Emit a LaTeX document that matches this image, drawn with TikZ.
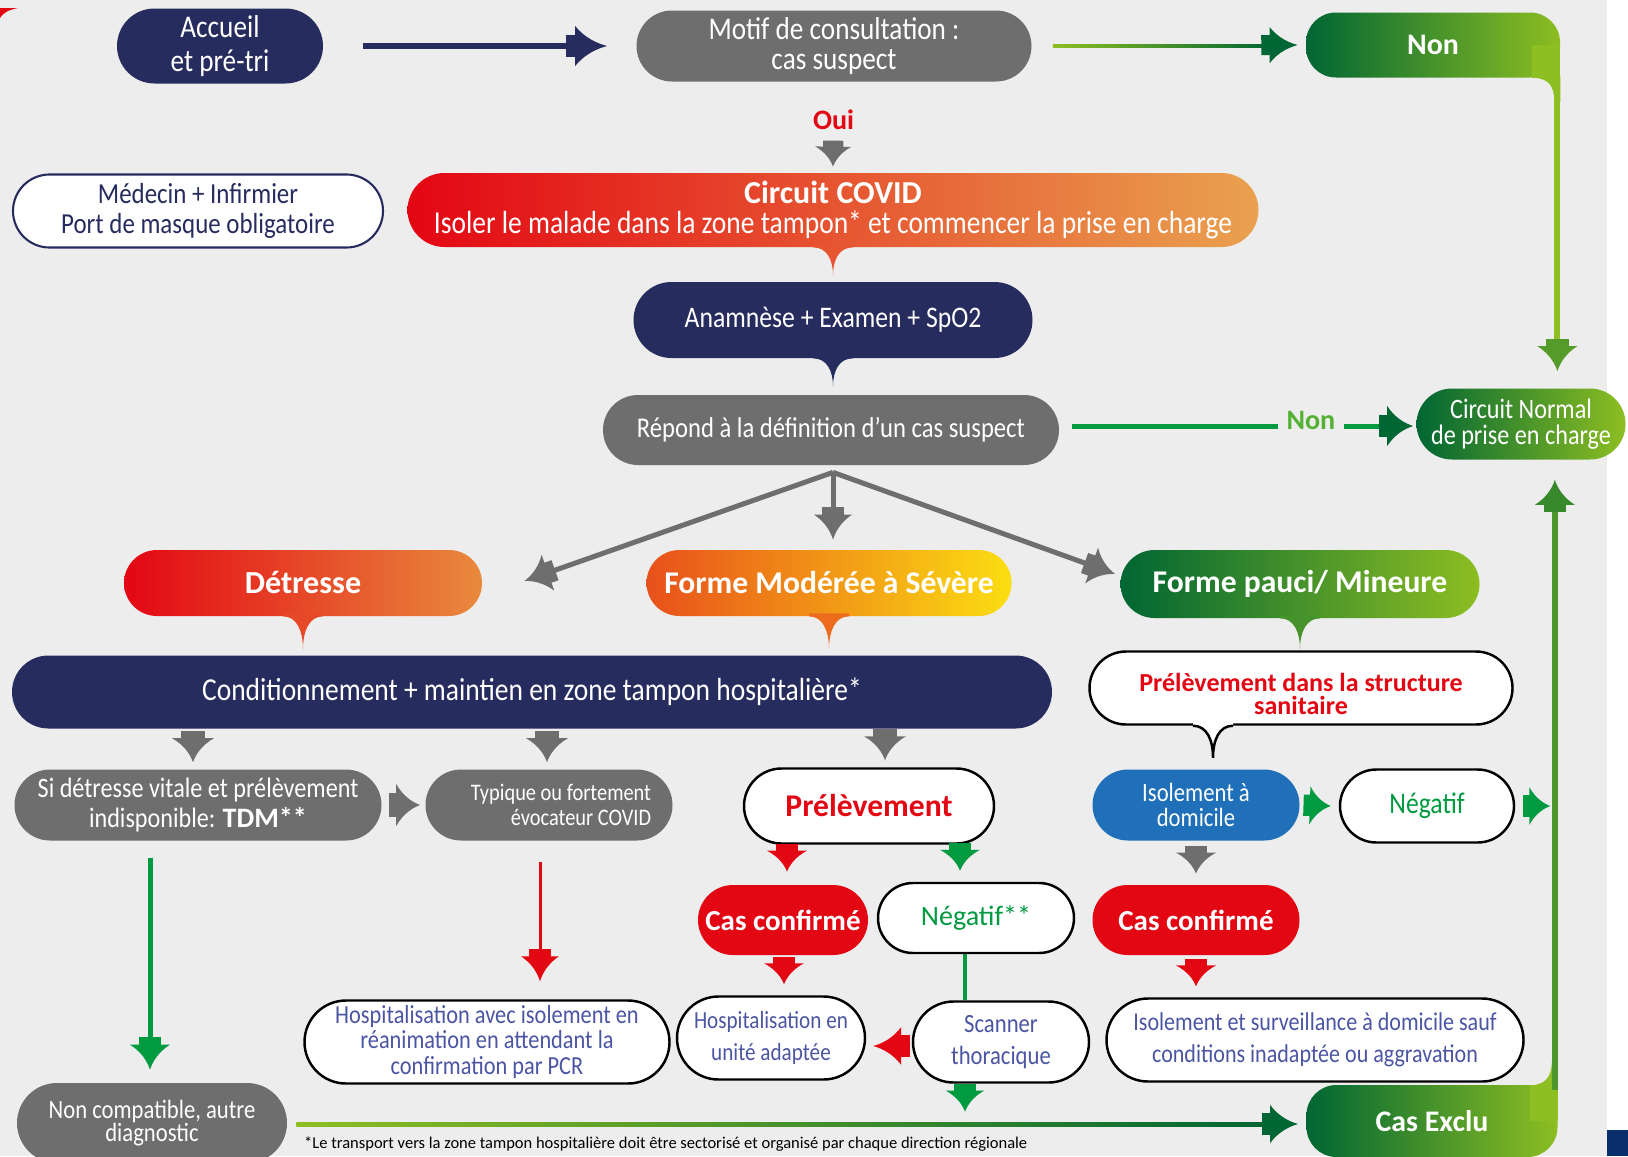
\documentclass[tikz,border=0pt]{standalone}
\usepackage{fontspec}
\setmainfont{Carlito}
\newfontfamily\cnd[FakeStretch=0.86]{Carlito}
\usetikzlibrary{shapes.misc, positioning, calc}

\definecolor{bgc}{HTML}{EDEDED}
\definecolor{navy}{HTML}{272C5E}
\definecolor{grayc}{HTML}{6E6E6E}
\definecolor{redc}{HTML}{E30613}
\definecolor{orangec}{HTML}{E9A24F}
\definecolor{detrR}{HTML}{E98A3D}
\definecolor{modL}{HTML}{E8501B}
\definecolor{modM}{HTML}{ED6B1D}
\definecolor{modR}{HTML}{FBDE12}
\definecolor{greenD}{HTML}{006633}
\definecolor{greenL}{HTML}{8DBE22}
\definecolor{greenM}{HTML}{009A40}
\definecolor{greenT}{HTML}{55B133}
\definecolor{blueC}{HTML}{1F70B9}
\definecolor{txtblue}{HTML}{4B55A3}
\definecolor{cornerblue}{HTML}{0A2D6C}

\begin{document}
\begin{tikzpicture}[x=0.02cm, y=-0.02cm,
    sz/.style 2 args={minimum width=#1*0.02cm, minimum height=#2*0.02cm},
    fs/.style 2 args={font=\cnd\fontsize{#1}{#2}\selectfont},
    bfs/.style={font=\bfseries\fontsize{#1}{#1}\selectfont},
    lw/.style={line width=#1*0.02cm},
    pill/.style={rounded rectangle, inner sep=0pt, align=center, text=white},
    navybox/.style={pill, fill=navy},
    graybox/.style={pill, fill=grayc},
    whitebox/.style={pill, fill=white, draw=black, line width=1.4pt},
    redbox/.style={pill, fill=redc},
    greenbox/.style={rectangle, rounded corners=17pt, inner sep=0pt, left color=greenD, right color=greenL, text=white},
    headat/.style={pos=1, sloped, allow upside down},
    pics/fathead/.style n args={3}{code={
        \fill[#3] (-1.3*#1, -0.28*#2) rectangle (-#1+1, 0.28*#2);
        \fill[#3] (-#1, -0.5*#2) .. controls (-0.7*#1, -0.2*#2) and (-0.3*#1, -0.06*#2) .. (0,0)
            .. controls (-0.3*#1, 0.06*#2) and (-0.7*#1, 0.2*#2) .. (-#1, 0.5*#2) -- cycle;
    }},
    pics/tail/.style n args={3}{code={
        \fill[#3] (-0.5*#1, -3) -- (-0.5*#1, 0) .. controls (-0.15*#1, 0) and (0, 0.45*#2) .. (0, #2)
            .. controls (0, 0.45*#2) and (0.15*#1, 0) .. (0.5*#1, 0) -- (0.5*#1, -3) -- cycle;
    }},
    pics/wtail/.style 2 args={code={
        \fill[white] (-0.5*#1, -4) -- (-0.5*#1, 0) .. controls (-0.15*#1, 0) and (0, 0.45*#2) .. (0, #2)
            .. controls (0, 0.45*#2) and (0.15*#1, 0) .. (0.5*#1, 0) -- (0.5*#1, -4) -- cycle;
        \draw[black, line width=1.4pt] (-0.5*#1, 0) .. controls (-0.15*#1, 0) and (0, 0.45*#2) .. (0, #2)
            .. controls (0, 0.45*#2) and (0.15*#1, 0) .. (0.5*#1, 0);
    }}
]

% Page
\useasboundingbox (0,0) rectangle (1628,1156);
\clip (0,0) rectangle (1628,1156);
\fill[bgc] (0,0) rectangle (1628,1156);
\fill[white] (1607,0) rectangle (1628,1156);
\fill[cornerblue] (1607,1130) rectangle (1628,1156);
\fill[redc] (0,8) -- (18,8) .. controls (8,10) and (3,13) .. (0,18) -- cycle;

% Top row
\node[navybox, sz={206}{75}, fs={18}{19.5}] (acc) at (220,46) {Accueil\\et pré-tri};
\node[graybox, sz={395}{71}, fs={18}{17.5}] (motif) at (834,46) {Motif de consultation :\\cas suspect};
\node[greenbox, sz={254}{65}, bfs=17] (non) at (1433,45) {Non};

% Circuit COVID
\node[pill, draw=navy, line width=1.2pt, fill=white, text=navy, sz={370}{73}, fs={16.5}{17.5}] (med) at (198,211) {Médecin + Infirmier\\Port de masque obligatoire};
\node[pill, sz={851}{74}, left color=redc, right color=orangec, fs={18.2}{17.5}] (covid) at (833,210)
    {{\rmfamily\bfseries Circuit COVID}\\Isoler le malade dans la zone tampon* et commencer la prise en charge};
\pic at (covid.south) {tail={40}{28}{redc!50!orangec}};
\node[navybox, sz={399}{76}, fs={17}{16}] (anam) at (833,320) {Anamnèse + Examen + SpO2};
\pic at (anam.south) {tail={40}{28}{navy}};
\node[graybox, sz={456}{70}, fs={16.3}{16}] (rep) at (831,430) {Répond à la définition d’un cas suspect};
\node[pill, left color=greenD, right color=greenL, sz={209}{71}, fs={16}{15}] (cn) at (1521,424) {Circuit Normal\\de prise en charge};

% Three forms
\node[pill, left color=redc, right color=detrR, sz={358}{66}, bfs=18.3] (detr) at (303,583) {Détresse};
\pic at (detr.south) {tail={40}{33}{redc!50!detrR}};
\node[pill, left color=modL, middle color=modM, right color=modR, sz={365}{66}, bfs=18] (modr) at (829,583) {Forme Modérée à Sévère};
\pic at (modr.south) {tail={40}{33}{modM}};
\node[pill, left color=greenD, right color=greenL, sz={359}{68}, bfs=18] (pauci) at (1300,584) {Forme pauci/ Mineure};
\pic at (pauci.south) {tail={40}{31}{greenD!50!greenL}};

% Hospital branch
\node[navybox, sz={1040}{73}, fs={18.2}{17}] (cond) at (532,692) {Conditionnement + maintien en zone tampon hospitalière*};
\node[graybox, sz={367}{71}, fs={16}{17}] (si) at (198,805) {Si détresse vitale et prélèvement\\indisponible: {\rmfamily\bfseries TDM**}};
\node[graybox, sz={247}{71}, fs={13.5}{14.5}, align=right] (typ) at (549,805) {\hspace*{0.48cm}Typique ou fortement\\évocateur COVID};
\node[whitebox, sz={250}{75}, bfs=18, text=redc] (prel) at (869,806) {Prélèvement};
\node[redbox, sz={170}{70}, bfs=16.5] (cc1) at (783,920) {Cas confirmé};
\node[whitebox, sz={196}{70}, text=greenM, font=\fontsize{16}{16}\selectfont] (neg1) at (976,918) {Négatif**};
\node[whitebox, sz={365}{83}, text=txtblue, fs={14.8}{14.5}] (hrea) at (487,1042) {Hospitalisation avec isolement en\\réanimation en attendant la\\confirmation par PCR};
\node[whitebox, sz={188}{83}, text=txtblue, fs={14}{18}] (hua) at (771,1038) {Hospitalisation en\\unité adaptée};
\node[whitebox, sz={176}{81}, text=txtblue, fs={15}{18}] (scan) at (1001,1042) {Scanner\\thoracique};
\node[graybox, sz={270}{80}, fs={15}{13.5}] (nc) at (152,1123) {Non compatible, autre\\diagnostic};

% Mild branch
\node[whitebox, sz={423}{73}, text=redc, font=\bfseries\fontsize{14.8}{13}\selectfont] (struct) at (1301,688) {\rule{0pt}{17pt}Prélèvement dans la structure\\sanitaire};
\pic at ($(struct.south)+(-88,0)$) {wtail={40}{32}};
\node[pill, fill=blueC, sz={207}{71}, fs={15}{14}] (iso) at (1196,805) {Isolement à\\domicile};
\node[whitebox, sz={174}{73}, text=greenM, fs={17}{17}] (neg2) at (1427,806) {Négatif};
\node[redbox, sz={207}{70}, bfs=16.5] (cc2) at (1196,920) {Cas confirmé};
\node[whitebox, sz={417}{83}, text=txtblue, fs={14.6}{18}] (surv) at (1315,1040) {Isolement et surveillance à domicile sauf\\conditions inadaptée ou aggravation};
\node[greenbox, sz={251}{72}, bfs=17] (exclu) at (1432,1121) {Cas Exclu};

% Footnote
\node[anchor=base west, font=\fontsize{9.4}{10}\selectfont] (foot) at (298,1148) {*Le transport vers la zone tampon hospitalière doit être sectorisé et organisé par chaque direction  régionale};

% Arrows, top
\draw[navy, lw=6, shorten >=0.64cm] ($(acc.east)+(40,0)$) -- ($(motif.west)+(-29,0)$) pic[headat]{fathead={32}{40}{navy}};
\shade[left color=greenL, right color=greenD] ($(motif.east)+(21,-2)$) rectangle ($(non.west)+(-34,2)$);
\path ($(motif.east)+(21,0)$) -- ($(non.west)+(-8,0)$) pic[headat]{fathead={28}{36}{greenD}};
\path (motif.south) -- ($(covid.north)+(0,-6)$) node[pos=0.45, text=redc, bfs=16] (oui) {Oui} pic[headat]{fathead={20}{36}{grayc}};

% Right column
\fill[greenL] ($(non.east)+(-28,0)$) rectangle (non.south east);
\fill[greenL] ($(non.south east)+(-28,-1)$) -- ($(non.south east)+(0,-1)$) -- ($(non.south east)+(0,24)$) -- ($(non.south east)+(-6,24)$)
    .. controls ($(non.south east)+(-6,8)$) and ($(non.south east)+(-12,0)$) .. ($(non.south east)+(-28,0)$) -- cycle;
\draw[greenL, lw=6, shorten >=0.5cm] ($(non.south east)+(-3,-5)$) -- ($(non.east |- cn.north)+(-3,-17)$) pic[headat]{fathead={25}{40}{greenD!40!greenL}};
\fill[greenL] ($(exclu.east)+(-28,0)$) rectangle (exclu.north east);
\fill[greenL] ($(exclu.north east)+(-28,1)$) .. controls ($(exclu.north east)+(-12,0)$) and ($(exclu.north east)+(-6,-8)$) .. ($(exclu.north east)+(-6,-24)$)
    -- ($(exclu.north east)+(0,-24)$) -- ($(exclu.north east)+(0,1)$) -- cycle;
\draw[greenD!45!greenL, lw=6, shorten >=0.5cm] ($(exclu.north east)+(-3,5)$) -- ($(exclu.east |- cn.south)+(-3,20)$) pic[headat]{fathead={25}{40}{greenD!60!greenL}};
\draw[greenM, lw=5, shorten >=0.66cm] ($(rep.east)+(13,-4)$) -- ($(rep.east -| cn.west)+(-3,-4)$)
    node[pos=0.7, fill=bgc, text=greenT, bfs=16, inner xsep=5pt, yshift=3pt] (non2) {Non}
    pic[headat]{fathead={26}{40}{greenD}};

% Split
\coordinate (split) at ($(rep.south)+(2,7)$);
\coordinate (modtip) at ($(modr.north)+(4,-10)$);
\draw[grayc, lw=5, shorten >=0.5cm] (split) -- ($(detr.east)+(42,-2)$) pic[headat]{fathead={25}{38}{grayc}};
\draw[grayc, lw=5, shorten >=0.5cm] (split) -- (split |- modtip) pic[headat]{fathead={25}{38}{grayc}};
\draw[grayc, lw=5, shorten >=0.5cm] (split) -- ($(pauci.west)+(-5,-10)$) pic[headat]{fathead={25}{38}{grayc}};

% Hospital arrows
\foreach \n/\dx in {si/-5, typ/-2, prel/16}
    \path ($(\n.north)+(\dx,-40)$) -- ($(\n.north)+(\dx,-7)$) pic[headat]{fathead={24}{42}{grayc}};
\path (si.east) -- ($(typ.west)+(-5,0)$) pic[headat]{fathead={24}{42}{grayc}};
\draw[greenM, lw=5, shorten >=0.5cm] ($(nc.north |- si.south)+(-2,17)$) -- ($(nc.north)+(-2,-13)$) pic[headat]{fathead={25}{40}{greenM}};
\draw[redc, lw=3, shorten >=0.5cm] ($(typ.south)+(-9,21)$) -- ($(typ.south |- hrea.north)+(-9,-18)$) pic[headat]{fathead={25}{38}{redc}};
\path ($(cc1.north)+(4,-40)$) -- ($(cc1.north)+(4,-13)$) pic[headat]{fathead={21}{40}{redc}};
\path ($(neg1.north)+(-16,-40)$) -- ($(neg1.north)+(-16,-11)$) pic[headat]{fathead={21}{40}{greenM}};
\path ($(hua.north)+(13,-40)$) -- ($(hua.north)+(13,-11)$) pic[headat]{fathead={21}{40}{redc}};
\coordinate (g1) at ($(neg1.south)+(-11,0)$);
\draw[greenM, lw=4] (g1) -- (g1 |- scan.north);
\path ($(scan.west)+(-2,4)$) -- ($(hua.east)+(7,8)$) pic[headat]{fathead={28}{38}{redc}};
\path ($(scan.south)+(-36,0)$) -- ($(scan.south)+(-36,28)$) pic[headat]{fathead={21}{38}{greenM}};

% Mild arrows
\path (iso.east) -- ($(neg2.west)+(-8,0)$) pic[headat]{fathead={21}{38}{greenM}};
\path (neg2.east) -- ($(neg2.east)+(35,0)$) pic[headat]{fathead={21}{38}{greenM}};
\path ($(cc2.north)+(0,-40)$) -- ($(cc2.north)+(0,-11)$) pic[headat]{fathead={21}{40}{grayc}};
\path (cc2.south) -- ($(cc2.south)+(0,31)$) pic[headat]{fathead={21}{40}{redc}};

% Bottom line
\shade[left color=greenL, right color=greenD] ($(nc.east)+(9,-1)$) rectangle ($(exclu.west)+(-34,5)$);
\path ($(nc.east)+(9,1)$) -- ($(exclu.west)+(-8,3)$) pic[headat]{fathead={28}{38}{greenD}};

\end{tikzpicture}
\end{document}
